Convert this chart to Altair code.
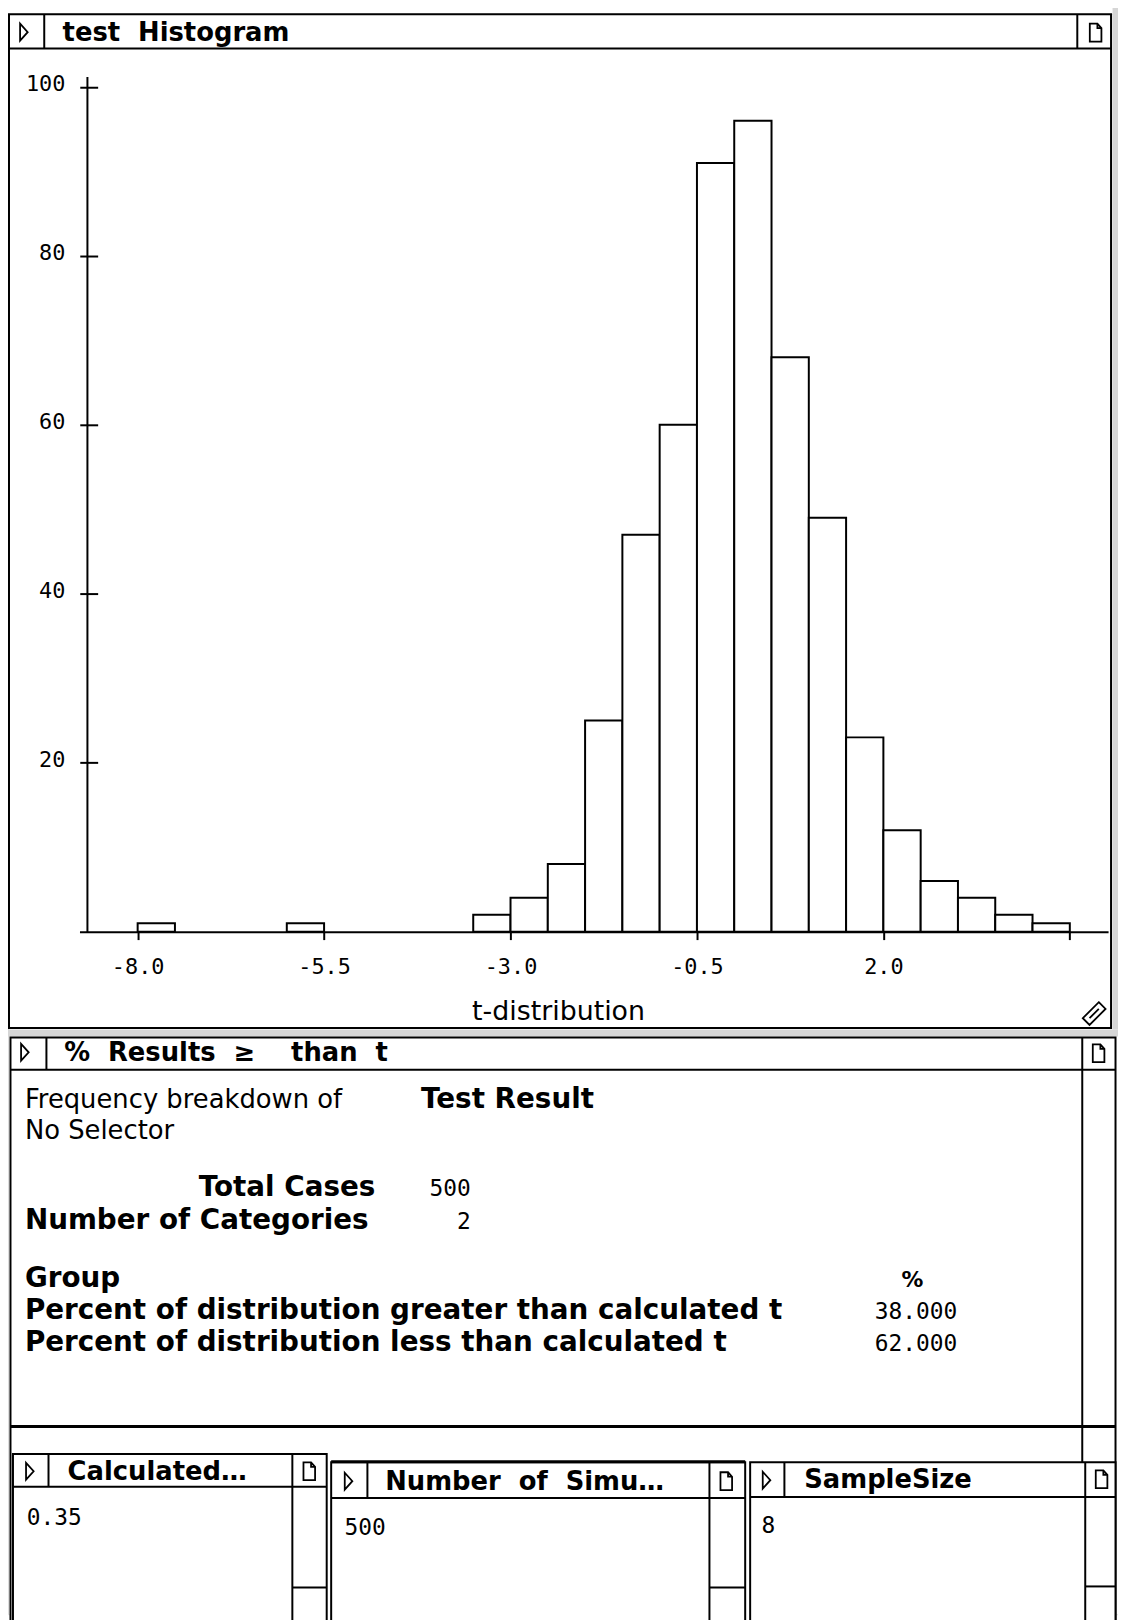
import altair as alt
import pandas as pd

# ---------------- data ----------------
bin_lo = [-8.0, -6.0, -3.5, -3.0, -2.5, -2.0, -1.5, -1.0, -0.5, 0.0, 0.5, 1.0, 1.5, 2.0, 2.5, 3.0, 3.5, 4.0]
counts = [1, 1, 2, 4, 8, 25, 47, 60, 91, 96, 68, 49, 23, 12, 6, 4, 2, 1]
bin_width = 0.5
x_ticks = [-8.0, -5.5, -3.0, -0.5, 2.0, 4.5]
y_ticks = [20, 40, 60, 80, 100]

total_cases = 500
n_categories = 2
group_labels = ["Percent of distribution greater than calculated t",
                "Percent of distribution less than calculated t"]
group_pct = [38.0, 62.0]
calculated_t = 0.35
n_simulations = 500
sample_size = 8

# ---------------- layout (page pixels) ----------------
O = 8            # page margin
W, H = 1118, 1612
BOT = 1660
NB = "\u00a0"


def rect(x, x2, y, y2, fill="white", stroke="black", sw=2):
    return dict(x=x - O, x2=x2 - O, y=y - O, y2=y2 - O, fill=fill, stroke=stroke, sw=sw)


def hline(y, x, x2, t=2):
    return rect(x, x2, y - t / 2, y + t / 2, "black", "black", 0)


def vline(x, y, y2, t=2):
    return rect(x - t / 2, x + t / 2, y, y2, "black", "black", 0)


elems = [
    rect(0, 1130, 1031, 1038, "#d6d6d6", "black", 0),
    rect(1120.5, 1130, 0, 1031, "#d6d6d6", "black", 0),
    # histogram window
    rect(9, 1119, 8.5, 1029.5),
    hline(43, 9, 1119),
    vline(44.5, 8.5, 43),
    vline(1085, 8.5, 43),
    vline(88, 71.7, 933.5),
    # results window
    rect(10.5, 1123.5, 1039, BOT),
    hline(1071.5, 10.5, 1123.5),
    vline(46.7, 1039, 1071.5),
    vline(1090, 1039, BOT),
    hline(1431, 10.5, 1123.5, 3),
    # Calculated window
    rect(13, 329, 1458.5, BOT),
    hline(1491.5, 13, 329),
    vline(48.8, 1458.5, 1491.5),
    vline(294.4, 1458.5, BOT),
    hline(1593, 294.4, 329),
    # Number of Simulations window
    rect(333.5, 750.5, 1467, BOT),
    hline(1466.5, 333.5, 750.5, 3),
    hline(1503, 333.5, 750.5),
    vline(370, 1467, 1503),
    vline(714.5, 1467, BOT),
    hline(1593, 714.5, 750.5),
    # SampleSize window
    rect(755.5, 1123.5, 1467, BOT),
    hline(1502, 755.5, 1123.5),
    vline(790, 1467, 1502),
    vline(1093, 1467, BOT),
    hline(1592, 1093, 1123.5),
]
elem_df = pd.DataFrame(elems)

chrome = alt.Chart(elem_df).mark_rect().encode(
    x=alt.X("x:Q", scale=None, axis=None),
    x2="x2:Q",
    y=alt.Y("y:Q", scale=None, axis=None),
    y2="y2:Q",
    fill=alt.Fill("fill:N", scale=None, legend=None),
    stroke=alt.Stroke("stroke:N", scale=None, legend=None),
    strokeWidth=alt.StrokeWidth("sw:Q", scale=None, legend=None),
)

TRI = "M-0.45,-1L0.45,0L-0.45,1Z"
DOC = "M-0.6,-1L0.25,-1L0.7,-0.5L0.7,1L-0.6,1Z M0.25,-1L0.25,-0.5L0.7,-0.5"
DIA = ("M0.389,-0.955L0.955,-0.389L-0.389,0.955L-0.955,0.389Z "
       "M-0.389,0.389L0.389,-0.389")
icons = pd.DataFrame([
    dict(x=24, y=26.5, s=TRI, size=289),
    dict(x=25, y=1054, s=TRI, size=289),
    dict(x=30, y=1476, s=TRI, size=289),
    dict(x=351, y=1486, s=TRI, size=289),
    dict(x=772, y=1485, s=TRI, size=289),
    dict(x=1103, y=27, s=DOC, size=324),
    dict(x=1106, y=1055, s=DOC, size=324),
    dict(x=311, y=1476, s=DOC, size=324),
    dict(x=731, y=1486, s=DOC, size=324),
    dict(x=1109, y=1484, s=DOC, size=324),
    dict(x=1102, y=1015, s=DIA, size=576),
])
icons["x"] = icons["x"] - O
icons["y"] = icons["y"] - O
icon_layer = alt.Chart(icons).mark_point(filled=False, stroke="black", strokeWidth=1.8, opacity=1).encode(
    x=alt.X("x:Q", scale=None, axis=None),
    y=alt.Y("y:Q", scale=None, axis=None),
    shape=alt.Shape("s:N", scale=None, legend=None),
    size=alt.Size("size:Q", scale=None, legend=None),
)

# ---------------- histogram ----------------
hist_df = pd.DataFrame({"lo": bin_lo, "count": counts})
hist = alt.Chart(hist_df).transform_calculate(
    hi=f"datum.lo + {bin_width}"
).mark_rect(fill="white", stroke="black", strokeWidth=2).encode(
    x=alt.X(
        "lo:Q",
        scale=alt.Scale(domain=[-8.78, 5.013], range=[72, 1108], nice=False, zero=False),
        axis=alt.Axis(
            orient="bottom", offset=924.5 - H, values=x_ticks, zindex=2,
            labelExpr="datum.value == 4.5 ? '' : replace(format(datum.value, '.1f'), '\u2212', '-')",
            tickSize=8, tickWidth=2, tickColor="black",
            domain=True, domainWidth=2, domainColor="black", grid=False,
            labelFont="DejaVu Sans Mono", labelFontSize=22, labelColor="black",
            labelBaseline="alphabetic", labelPadding=34.5, labelFlush=False,
            labelOverlap=False, labelAlign="center",
            title="t-distribution", titleFont="DejaVu Sans", titleFontSize=27,
            titleFontWeight="normal", titleColor="black", titleX=554, titleY=88.5,
            titleBaseline="alphabetic", titleAlign="center",
        ),
    ),
    x2="hi:Q",
    y=alt.Y(
        "count:Q",
        scale=alt.Scale(domain=[0, 100], range=[924.5, 73.7], nice=False, zero=True),
        axis=alt.Axis(
            orient="left", offset=-90.3, values=y_ticks, zindex=2,
            tickSize=18, tickWidth=2, tickColor="black", domain=False, grid=False,
            labelFont="DejaVu Sans Mono", labelFontSize=22, labelColor="black",
            labelPadding=15, labelBaseline="middle", labelOffset=-3, title=None,
        ),
    ),
    y2=alt.datum(0),
)


# ---------------- texts ----------------
def text_layer(rows, font, size, weight, align):
    df = pd.DataFrame(rows, columns=["t", "x", "y"])
    df["x"] = df["x"] - O
    df["y"] = df["y"] - O
    return alt.Chart(df).mark_text(
        align=align, baseline="alphabetic", font=font, fontSize=size,
        fontWeight=weight, color="black",
    ).encode(
        x=alt.X("x:Q", scale=None, axis=None),
        y=alt.Y("y:Q", scale=None, axis=None),
        text="t:N",
    )


titles = text_layer([
    ("test" + NB * 2 + "Histogram", 63, 35),
    ("%" + NB * 2 + "Results" + NB * 2 + "\u2265" + NB * 4 + "than" + NB * 2 + "t", 64.6, 1063),
    ("Calculated\u2026", 68, 1485),
    ("Number" + NB * 2 + "of" + NB * 2 + "Simu\u2026", 388, 1495),
    ("SampleSize", 810, 1493),
], "DejaVu Sans", 26, "bold", "left")

body_normal = text_layer([
    ("Frequency breakdown of", 25, 1110),
    ("No Selector", 25, 1141.5),
], "DejaVu Sans", 26, "normal", "left")

body_bold = text_layer([
    ("Test Result", 424, 1110),
    ("Number of Categories", 25, 1231.7),
    ("Group", 25, 1290),
    (group_labels[0], 25, 1323),
    (group_labels[1], 25, 1355),
], "DejaVu Sans", 28, "bold", "left")

body_bold_r = text_layer([
    ("Total Cases", 378, 1198.3),
], "DejaVu Sans", 28, "bold", "right")

pct_head = text_layer([
    ("%", 919, 1290),
], "DejaVu Sans", 22, "bold", "center")

nums_r = text_layer([
    (f"{total_cases}", 474, 1198.3),
    (f"{n_categories}", 474, 1231.7),
    (f"{group_pct[0]:.3f}", 964, 1323),
    (f"{group_pct[1]:.3f}", 964, 1355),
], "DejaVu Sans Mono", 23, "normal", "right")

nums_l = text_layer([
    (f"{calculated_t:.2f}", 27, 1530),
    (f"{n_simulations}", 347, 1540),
    (f"{sample_size}", 767, 1538),
], "DejaVu Sans Mono", 23, "normal", "left")

chart = alt.layer(
    chrome, icon_layer, hist, titles, body_normal, body_bold, body_bold_r,
    pct_head, nums_r, nums_l,
).resolve_scale(
    x="independent", y="independent"
).properties(
    width=W, height=H, autosize=alt.AutoSizeParams(type="none"), padding=0,
).configure_view(stroke=None).configure(background="white")

chart.save("out.html", embed_options={"renderer": "svg", "actions": False})
